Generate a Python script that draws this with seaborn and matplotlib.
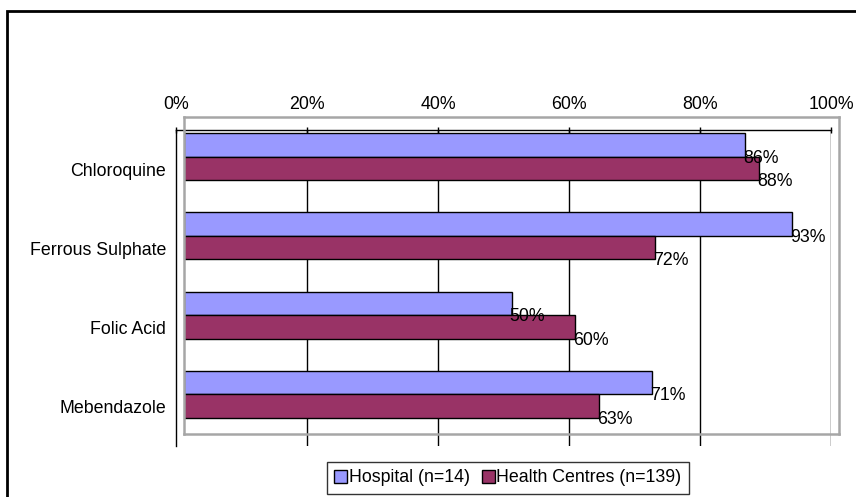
import pandas as pd
import matplotlib
matplotlib.use("Agg")
import matplotlib.pyplot as plt
from matplotlib.patches import Rectangle
import seaborn as sns

# values (percent)
drugs = ["Chloroquine", "Ferrous Sulphate", "Folic Acid", "Mebendazole"]
hospital = [85.7, 92.9, 50.0, 71.4]
health_centres = [87.8, 71.9, 59.7, 63.3]
series_names = ["Hospital (n=14)", "Health Centres (n=139)"]
x_ticks = [0, 20, 40, 60, 80, 100]

df = pd.DataFrame({
    "drug": drugs * 2,
    "pct": hospital + health_centres,
    "facility": [series_names[0]] * len(drugs) + [series_names[1]] * len(drugs),
})

sns.set_style("white")
plt.rcParams["font.family"] = ["Liberation Sans", "DejaVu Sans"]
plt.rcParams["text.color"] = "black"
plt.rcParams["xtick.color"] = "black"
plt.rcParams["ytick.color"] = "black"
FS = 12.8

W, H = 856, 497
fig = plt.figure(figsize=(W / 100, H / 100), dpi=100)

def px_axes(left, top, right, bottom):
    return fig.add_axes([left / W, 1 - bottom / H, (right - left) / W, (bottom - top) / H])

# axis with the scale, gridlines and category labels
ax_grid = px_axes(176, 130, 831, 446)
ax_grid.set_xlim(0, 100)
ax_grid.set_ylim(len(drugs) - 0.5, -0.5)
ax_grid.xaxis.tick_top()
ax_grid.set_xticks(x_ticks)
ax_grid.set_xticklabels([f"{t}%" for t in x_ticks], fontsize=FS, color="black")
ax_grid.set_yticks(range(len(drugs)))
ax_grid.set_yticklabels(drugs, fontsize=FS, color="black")
ax_grid.tick_params(axis="x", direction="inout", length=5, width=1, pad=10, colors="black")
ax_grid.tick_params(axis="y", length=0, pad=7)
for t in x_ticks[1:]:
    ax_grid.axvline(t, color="black", lw=1)
for side in ["right", "bottom"]:
    ax_grid.spines[side].set_visible(False)
for side in ["top", "left"]:
    ax_grid.spines[side].set_color("black")
    ax_grid.spines[side].set_linewidth(1)
ax_grid.patch.set_alpha(0)

# bar axis, drawn slightly offset like the original
ax_bar = px_axes(184, 117, 839, 434)
sns.barplot(data=df, y="drug", x="pct", hue="facility", orient="h",
            palette=["#9999FF", "#993366"], edgecolor="black", linewidth=1,
            width=0.59, saturation=1, ax=ax_bar)
ax_bar.set_xlim(0, 100)
ax_bar.set_ylim(len(drugs) - 0.5, -0.5)
ax_bar.set_xticks([])
ax_bar.set_yticks([])
ax_bar.set_xlabel("")
ax_bar.set_ylabel("")
ax_bar.patch.set_alpha(0)
for s in ax_bar.spines.values():
    s.set_color("#A6A6A6")
    s.set_linewidth(1.8)

for cont in ax_bar.containers:
    for bar in cont:
        v = bar.get_width()
        ax_bar.text(bar.get_x() + v - 0.3, bar.get_y() + bar.get_height() + 0.02,
                    f"{v:.0f}%", ha="left", va="center", fontsize=FS, color="black")

handles, labels = ax_bar.get_legend_handles_labels()
ax_bar.get_legend().remove()
leg = fig.legend(handles, labels, loc="center", bbox_to_anchor=(508 / W, 1 - 478 / H),
                 ncol=2, frameon=True, fancybox=False, fontsize=FS,
                 handlelength=0.7, handleheight=0.7, handletextpad=0.1,
                 columnspacing=0.7, borderpad=0.4)
leg.get_frame().set_edgecolor("black")
leg.get_frame().set_linewidth(1)

# outer chart border
fig.patches.append(Rectangle((7 / W, -0.1), 2, 1 - 11 / H + 0.1, transform=fig.transFigure,
                             fill=False, edgecolor="black", lw=2))

fig.savefig("out.png", dpi=100)
